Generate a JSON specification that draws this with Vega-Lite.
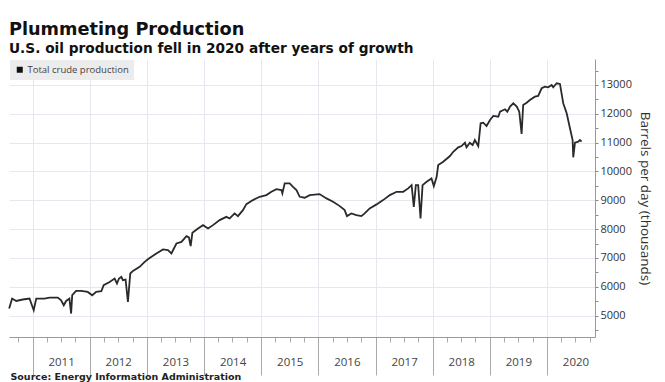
{
  "$schema": "https://vega.github.io/schema/vega-lite/v6.json",
  "width": 586,
  "height": 278,
  "autosize": {"type": "none"},
  "padding": {"left": 9, "top": 59, "right": 70, "bottom": 45},
  "background": "white",
  "title": {
    "text": "Plummeting Production",
    "subtitle": "U.S. oil production fell in 2020 after years of growth",
    "anchor": "start",
    "frame": "group",
    "font": "DejaVu Sans",
    "fontSize": 17.7,
    "fontWeight": "bold",
    "color": "#111",
    "subtitleFont": "DejaVu Sans",
    "subtitleFontSize": 13.7,
    "subtitleFontWeight": "bold",
    "subtitleColor": "#111",
    "subtitlePadding": 4,
    "offset": 3
  },
  "config": {"view": {"stroke": null}},
  "data": {
    "values": [
      {"date": "2010-08-04", "value": 5247, "series": "Total crude production"},
      {"date": "2010-08-23", "value": 5594, "series": "Total crude production"},
      {"date": "2010-09-18", "value": 5510, "series": "Total crude production"},
      {"date": "2010-10-30", "value": 5560, "series": "Total crude production"},
      {"date": "2010-12-12", "value": 5594, "series": "Total crude production"},
      {"date": "2011-01-08", "value": 5187, "series": "Total crude production"},
      {"date": "2011-01-24", "value": 5594, "series": "Total crude production"},
      {"date": "2011-03-18", "value": 5594, "series": "Total crude production"},
      {"date": "2011-04-19", "value": 5628, "series": "Total crude production"},
      {"date": "2011-06-11", "value": 5628, "series": "Total crude production"},
      {"date": "2011-07-02", "value": 5535, "series": "Total crude production"},
      {"date": "2011-07-19", "value": 5361, "series": "Total crude production"},
      {"date": "2011-08-03", "value": 5510, "series": "Total crude production"},
      {"date": "2011-08-24", "value": 5594, "series": "Total crude production"},
      {"date": "2011-09-04", "value": 5073, "series": "Total crude production"},
      {"date": "2011-09-11", "value": 5708, "series": "Total crude production"},
      {"date": "2011-10-06", "value": 5858, "series": "Total crude production"},
      {"date": "2011-11-07", "value": 5858, "series": "Total crude production"},
      {"date": "2011-12-19", "value": 5823, "series": "Total crude production"},
      {"date": "2012-01-17", "value": 5708, "series": "Total crude production"},
      {"date": "2012-02-11", "value": 5823, "series": "Total crude production"},
      {"date": "2012-03-15", "value": 5847, "series": "Total crude production"},
      {"date": "2012-03-30", "value": 6056, "series": "Total crude production"},
      {"date": "2012-05-07", "value": 6170, "series": "Total crude production"},
      {"date": "2012-06-08", "value": 6288, "series": "Total crude production"},
      {"date": "2012-06-23", "value": 6115, "series": "Total crude production"},
      {"date": "2012-07-06", "value": 6288, "series": "Total crude production"},
      {"date": "2012-07-21", "value": 6344, "series": "Total crude production"},
      {"date": "2012-07-31", "value": 6229, "series": "Total crude production"},
      {"date": "2012-08-17", "value": 6253, "series": "Total crude production"},
      {"date": "2012-09-01", "value": 5476, "series": "Total crude production"},
      {"date": "2012-09-16", "value": 6462, "series": "Total crude production"},
      {"date": "2012-10-03", "value": 6552, "series": "Total crude production"},
      {"date": "2012-11-15", "value": 6691, "series": "Total crude production"},
      {"date": "2012-12-17", "value": 6865, "series": "Total crude production"},
      {"date": "2013-01-13", "value": 6983, "series": "Total crude production"},
      {"date": "2013-03-02", "value": 7156, "series": "Total crude production"},
      {"date": "2013-04-13", "value": 7295, "series": "Total crude production"},
      {"date": "2013-05-15", "value": 7271, "series": "Total crude production"},
      {"date": "2013-06-06", "value": 7156, "series": "Total crude production"},
      {"date": "2013-07-08", "value": 7503, "series": "Total crude production"},
      {"date": "2013-08-09", "value": 7559, "series": "Total crude production"},
      {"date": "2013-09-10", "value": 7757, "series": "Total crude production"},
      {"date": "2013-09-26", "value": 7712, "series": "Total crude production"},
      {"date": "2013-10-07", "value": 7410, "series": "Total crude production"},
      {"date": "2013-10-18", "value": 7872, "series": "Total crude production"},
      {"date": "2013-11-23", "value": 8024, "series": "Total crude production"},
      {"date": "2013-12-25", "value": 8139, "series": "Total crude production"},
      {"date": "2014-01-26", "value": 8024, "series": "Total crude production"},
      {"date": "2014-02-27", "value": 8139, "series": "Total crude production"},
      {"date": "2014-04-10", "value": 8313, "series": "Total crude production"},
      {"date": "2014-05-23", "value": 8427, "series": "Total crude production"},
      {"date": "2014-06-13", "value": 8371, "series": "Total crude production"},
      {"date": "2014-07-15", "value": 8545, "series": "Total crude production"},
      {"date": "2014-08-05", "value": 8451, "series": "Total crude production"},
      {"date": "2014-09-06", "value": 8660, "series": "Total crude production"},
      {"date": "2014-09-28", "value": 8868, "series": "Total crude production"},
      {"date": "2014-11-09", "value": 9007, "series": "Total crude production"},
      {"date": "2014-12-22", "value": 9122, "series": "Total crude production"},
      {"date": "2015-02-03", "value": 9181, "series": "Total crude production"},
      {"date": "2015-03-07", "value": 9295, "series": "Total crude production"},
      {"date": "2015-04-08", "value": 9389, "series": "Total crude production"},
      {"date": "2015-05-10", "value": 9354, "series": "Total crude production"},
      {"date": "2015-05-16", "value": 9240, "series": "Total crude production"},
      {"date": "2015-05-31", "value": 9587, "series": "Total crude production"},
      {"date": "2015-07-02", "value": 9587, "series": "Total crude production"},
      {"date": "2015-07-23", "value": 9469, "series": "Total crude production"},
      {"date": "2015-08-14", "value": 9354, "series": "Total crude production"},
      {"date": "2015-09-04", "value": 9122, "series": "Total crude production"},
      {"date": "2015-10-06", "value": 9090, "series": "Total crude production"},
      {"date": "2015-11-07", "value": 9181, "series": "Total crude production"},
      {"date": "2016-01-09", "value": 9215, "series": "Total crude production"},
      {"date": "2016-02-22", "value": 9066, "series": "Total crude production"},
      {"date": "2016-04-04", "value": 8950, "series": "Total crude production"},
      {"date": "2016-05-17", "value": 8799, "series": "Total crude production"},
      {"date": "2016-06-17", "value": 8660, "series": "Total crude production"},
      {"date": "2016-07-02", "value": 8451, "series": "Total crude production"},
      {"date": "2016-07-30", "value": 8545, "series": "Total crude production"},
      {"date": "2016-08-31", "value": 8486, "series": "Total crude production"},
      {"date": "2016-10-02", "value": 8451, "series": "Total crude production"},
      {"date": "2016-10-23", "value": 8545, "series": "Total crude production"},
      {"date": "2016-11-24", "value": 8719, "series": "Total crude production"},
      {"date": "2017-01-07", "value": 8858, "series": "Total crude production"},
      {"date": "2017-02-18", "value": 9007, "series": "Total crude production"},
      {"date": "2017-04-02", "value": 9181, "series": "Total crude production"},
      {"date": "2017-05-15", "value": 9295, "series": "Total crude production"},
      {"date": "2017-06-26", "value": 9295, "series": "Total crude production"},
      {"date": "2017-07-28", "value": 9413, "series": "Total crude production"},
      {"date": "2017-08-19", "value": 9528, "series": "Total crude production"},
      {"date": "2017-09-02", "value": 8774, "series": "Total crude production"},
      {"date": "2017-09-15", "value": 9528, "series": "Total crude production"},
      {"date": "2017-09-30", "value": 9528, "series": "Total crude production"},
      {"date": "2017-10-15", "value": 8371, "series": "Total crude production"},
      {"date": "2017-10-28", "value": 9528, "series": "Total crude production"},
      {"date": "2017-11-23", "value": 9643, "series": "Total crude production"},
      {"date": "2017-12-24", "value": 9760, "series": "Total crude production"},
      {"date": "2018-01-08", "value": 9493, "series": "Total crude production"},
      {"date": "2018-01-26", "value": 9816, "series": "Total crude production"},
      {"date": "2018-02-05", "value": 10222, "series": "Total crude production"},
      {"date": "2018-03-09", "value": 10337, "series": "Total crude production"},
      {"date": "2018-04-21", "value": 10535, "series": "Total crude production"},
      {"date": "2018-05-12", "value": 10684, "series": "Total crude production"},
      {"date": "2018-06-13", "value": 10837, "series": "Total crude production"},
      {"date": "2018-07-04", "value": 10882, "series": "Total crude production"},
      {"date": "2018-07-26", "value": 10997, "series": "Total crude production"},
      {"date": "2018-08-05", "value": 10837, "series": "Total crude production"},
      {"date": "2018-08-26", "value": 10997, "series": "Total crude production"},
      {"date": "2018-09-13", "value": 10917, "series": "Total crude production"},
      {"date": "2018-09-27", "value": 11090, "series": "Total crude production"},
      {"date": "2018-10-19", "value": 10882, "series": "Total crude production"},
      {"date": "2018-11-03", "value": 11670, "series": "Total crude production"},
      {"date": "2018-11-20", "value": 11691, "series": "Total crude production"},
      {"date": "2018-12-11", "value": 11576, "series": "Total crude production"},
      {"date": "2019-01-02", "value": 11785, "series": "Total crude production"},
      {"date": "2019-01-23", "value": 11924, "series": "Total crude production"},
      {"date": "2019-02-24", "value": 11899, "series": "Total crude production"},
      {"date": "2019-03-07", "value": 12073, "series": "Total crude production"},
      {"date": "2019-04-08", "value": 12156, "series": "Total crude production"},
      {"date": "2019-04-23", "value": 12073, "series": "Total crude production"},
      {"date": "2019-05-10", "value": 12250, "series": "Total crude production"},
      {"date": "2019-05-31", "value": 12365, "series": "Total crude production"},
      {"date": "2019-06-22", "value": 12250, "series": "Total crude production"},
      {"date": "2019-07-08", "value": 12073, "series": "Total crude production"},
      {"date": "2019-07-23", "value": 11299, "series": "Total crude production"},
      {"date": "2019-08-02", "value": 12306, "series": "Total crude production"},
      {"date": "2019-08-24", "value": 12385, "series": "Total crude production"},
      {"date": "2019-09-14", "value": 12479, "series": "Total crude production"},
      {"date": "2019-10-16", "value": 12594, "series": "Total crude production"},
      {"date": "2019-11-06", "value": 12618, "series": "Total crude production"},
      {"date": "2019-11-28", "value": 12885, "series": "Total crude production"},
      {"date": "2019-12-19", "value": 12941, "series": "Total crude production"},
      {"date": "2020-01-09", "value": 12920, "series": "Total crude production"},
      {"date": "2020-01-31", "value": 13000, "series": "Total crude production"},
      {"date": "2020-02-10", "value": 12920, "series": "Total crude production"},
      {"date": "2020-03-03", "value": 13059, "series": "Total crude production"},
      {"date": "2020-03-24", "value": 13035, "series": "Total crude production"},
      {"date": "2020-04-14", "value": 12365, "series": "Total crude production"},
      {"date": "2020-05-06", "value": 12017, "series": "Total crude production"},
      {"date": "2020-05-27", "value": 11497, "series": "Total crude production"},
      {"date": "2020-06-13", "value": 11090, "series": "Total crude production"},
      {"date": "2020-06-17", "value": 10490, "series": "Total crude production"},
      {"date": "2020-06-28", "value": 10997, "series": "Total crude production"},
      {"date": "2020-07-19", "value": 11035, "series": "Total crude production"},
      {"date": "2020-07-30", "value": 11090, "series": "Total crude production"},
      {"date": "2020-08-09", "value": 11035, "series": "Total crude production"}
    ]
  },
  "mark": {"type": "line", "strokeWidth": 1.8, "strokeJoin": "miter", "interpolate": "linear"},
  "encoding": {
    "x": {
      "field": "date",
      "type": "temporal",
      "scale": {"type": "utc", "domain": [{"year": 2010, "month": 8, "date": 3, "utc": true}, {"year": 2020, "month": 11, "date": 3, "utc": true}], "nice": false},
      "axis": {
        "orient": "bottom",
        "title": "Source: Energy Information Administration",
        "titleFont": "DejaVu Sans",
        "titleFontSize": 9.5,
        "titleFontWeight": "bold",
        "titleColor": "#222",
        "titleAnchor": "start",
        "titleAlign": "left",
        "titleBaseline": "alphabetic",
        "titleX": 1,
        "titleY": 42,
        "tickCount": {"interval": "month", "step": 3},
        "labelExpr": "utcmonth(datum.value) == 0 ? utcFormat(datum.value, '%Y') : ''",
        "labelOffset": 28.5,
        "labelAlign": "center",
        "labelBaseline": "top",
        "labelFlush": false,
        "labelOverlap": false,
        "labelBound": false,
        "labelPadding": -19,
        "labelFont": "Open Sans",
        "labelFontSize": 11.5,
        "labelColor": "#444",
        "tickSize": {"condition": {"test": "utcmonth(datum.value) == 0", "value": 38}, "value": 5},
        "tickColor": "#aaa",
        "grid": true,
        "gridColor": "#e8e6ee",
        "gridOpacity": {"condition": {"test": "utcmonth(datum.value) == 0", "value": 1}, "value": 0},
        "domainColor": "#999"
      }
    },
    "y": {
      "field": "value",
      "type": "quantitative",
      "scale": {"domain": [4260, 13900], "nice": false, "zero": false},
      "axis": {
        "orient": "right",
        "title": "Barrels per day (thousands)",
        "titleFont": "Open Sans",
        "titleFontSize": 13.5,
        "titleFontWeight": "normal",
        "titleColor": "#333",
        "titlePadding": 6,
        "values": [4500, 5000, 5500, 6000, 6500, 7000, 7500, 8000, 8500, 9000, 9500, 10000, 10500, 11000, 11500, 12000, 12500, 13000, 13500],
        "labelExpr": "datum.value % 1000 == 0 ? format(datum.value, 'd') : ''",
        "labelFont": "Open Sans",
        "labelFontSize": 11,
        "labelColor": "#333",
        "labelPadding": 2,
        "labelOverlap": false,
        "tickSize": 3,
        "tickColor": "#888",
        "grid": true,
        "gridColor": "#e8e6ee",
        "gridOpacity": {"condition": {"test": "datum.value % 1000 == 0", "value": 1}, "value": 0},
        "domainColor": "#999"
      }
    },
    "color": {
      "field": "series",
      "type": "nominal",
      "scale": {"range": ["#2a2a2a"]},
      "legend": {
        "title": null,
        "orient": "top-left",
        "offset": 1,
        "fillColor": "#ececec",
        "padding": 5,
        "symbolType": "square",
        "symbolSize": 36,
        "labelFont": "Open Sans",
        "labelFontSize": 9.5,
        "labelColor": "#444",
        "labelOffset": 3,
        "encode": {"symbols": {"update": {"fill": {"value": "#111"}, "stroke": {"value": "#111"}, "strokeWidth": {"value": 0}}}}
      }
    }
  }
}
